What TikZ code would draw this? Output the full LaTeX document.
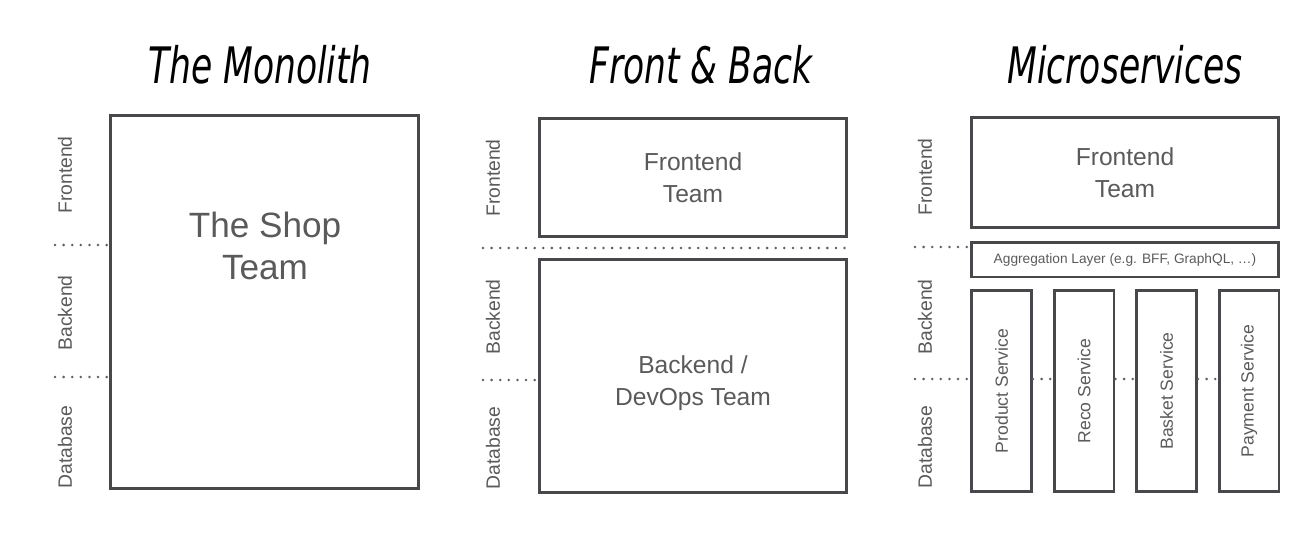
\documentclass[tikz,border=0pt]{standalone}
\usepackage{fontspec}
\setmainfont{Liberation Sans}
\newfontfamily\titlefont{DejaVu Sans Condensed}
\usetikzlibrary{positioning}
\definecolor{boxgray}{RGB}{72,72,76}
\definecolor{txtgray}{RGB}{90,90,92}
\definecolor{dotgray}{RGB}{95,95,98}
\newcommand{\paneltext}[1]{\scalebox{0.84}[1.1]{#1}}

\begin{document}
\begin{tikzpicture}[x=0.02cm, y=-0.02cm,
  teambox/.style={draw=boxgray, line width=1.7pt, inner sep=0pt, align=center, text=txtgray},
  teamtext/.style={text=txtgray, align=center},
  sidelabel/.style={rotate=90, text=txtgray, font=\fontsize{11}{13}\selectfont},
  sepline/.style={dotgray, line width=1.6pt, line cap=round, dash pattern=on 0pt off 4.9pt},
  paneltitle/.style={font=\titlefont\itshape\fontsize{26}{30}\selectfont}]
  \useasboundingbox (0,0) rectangle (1316,548);
  %--- The Monolith ----------------------------------------------------------
  \node[paneltitle] (t1) at (260,65) {\paneltext{The Monolith}};
  \node[teambox, minimum width=6.16cm, minimum height=7.48cm] (shop) at (264.5,302) {};
  \node[teamtext, font=\fontsize{20}{24}\selectfont] (shoplbl) at (265,246) {The Shop\\Team};
  \node[sidelabel] (m-fe) at (65,175) {Frontend};
  \node[sidelabel] (m-be) at (65,313) {Backend};
  \node[sidelabel] (m-db) at (65,447) {Database};
  \coordinate (m-s1) at (55,245);
  \coordinate (m-s2) at (55,377);
  \draw[sepline] (m-s1) -- (m-s1 -| shop.west);
  \draw[sepline] (m-s2) -- (m-s2 -| shop.west);
  %--- Front & Back ----------------------------------------------------------
  \node[paneltitle] (t2) at (701,65) {\paneltext{Front \& Back}};
  \node[teambox, minimum width=6.16cm, minimum height=2.38cm, font=\fontsize{14}{18}\selectfont]
    (fe2) at (693,177.5) {Frontend\\Team};
  \node[teambox, minimum width=6.16cm, minimum height=4.68cm] (be2) at (693,376) {};
  \node[teamtext, font=\fontsize{14}{18}\selectfont] (be2lbl) at (693,383) {Backend /\\DevOps Team};
  \node[sidelabel] (f-fe) at (493,178) {Frontend};
  \node[sidelabel] (f-be) at (493,317) {Backend};
  \node[sidelabel] (f-db) at (493,448) {Database};
  \coordinate (f-s1) at (483,248);
  \coordinate (f-s2) at (483,380);
  \draw[sepline] (f-s1) -- (f-s1 -| fe2.east);
  \draw[sepline] (f-s2) -- (f-s2 -| be2.west);
  %--- Microservices ---------------------------------------------------------
  \node[paneltitle] (t3) at (1125,65) {\paneltext{Microservices}};
  \node[teambox, minimum width=6.16cm, minimum height=2.22cm, font=\fontsize{14}{18}\selectfont]
    (fe3) at (1125,172.5) {Frontend\\Team};
  \node[teambox, minimum width=6.16cm, minimum height=0.7cm, font=\fontsize{7.8}{9}\selectfont]
    (agg) at (1125,259.5) {Aggregation Layer (e.g. BFF, GraphQL, …)};
  \foreach \name [count=\i from 0] in {Product, Reco, Basket, Payment}
    \node[teambox, minimum width=1.2cm, minimum height=4.04cm, font=\fontsize{10}{12}\selectfont]
      (svc\i) at (1001.5+82.5*\i,391) {\rotatebox{90}{\name\ Service}};
  \node[sidelabel] (u-fe) at (925,177) {Frontend};
  \node[sidelabel] (u-be) at (925,317) {Backend};
  \node[sidelabel] (u-db) at (925,447) {Database};
  \coordinate (u-s1) at (915,247);
  \coordinate (u-s2) at (915,379);
  \draw[sepline] (u-s1) -- (u-s1 -| agg.west);
  \draw[sepline] (u-s2) -- (u-s2 -| svc0.west);
  \foreach \a/\b in {0/1,1/2,2/3}
    \draw[sepline] (svc\a.east |- u-s2) -- (svc\b.west |- u-s2);
\end{tikzpicture}
\end{document}
